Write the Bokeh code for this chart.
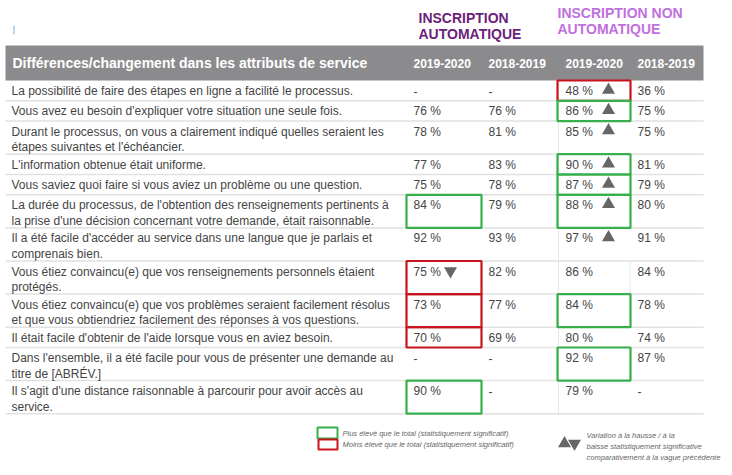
from bokeh.plotting import figure
from bokeh.models import ColumnDataSource, Range1d
from bokeh.core.properties import value
from bokeh.embed import file_html
from bokeh.resources import INLINE

# ---------------- data ----------------
group_titles = ["INSCRIPTION\nAUTOMATIQUE", "INSCRIPTION NON\nAUTOMATIQUE"]
header_title = "Différences/changement dans les attributs de service"
years = ["2019-2020", "2018-2019", "2019-2020", "2018-2019"]

attributes = [
    "La possibilité de faire des étapes en ligne a facilité le processus.",
    "Vous avez eu besoin d'expliquer votre situation une seule fois.",
    "Durant le processus, on vous a clairement indiqué quelles seraient les\nétapes suivantes et l'échéancier.",
    "L'information obtenue était uniforme.",
    "Vous saviez quoi faire si vous aviez un problème ou une question.",
    "La durée du processus, de l'obtention des renseignements pertinents à\nla prise d'une décision concernant votre demande, était raisonnable.",
    "Il a été facile d'accéder au service dans une langue que je parlais et\ncomprenais bien.",
    "Vous étiez convaincu(e) que vos renseignements personnels étaient\nprotégés.",
    "Vous étiez convaincu(e) que vos problèmes seraient facilement résolus\net que vous obtiendriez facilement des réponses à vos questions.",
    "Il était facile d'obtenir de l'aide lorsque vous en aviez besoin.",
    "Dans l'ensemble, il a été facile pour vous de présenter une demande au\ntitre de [ABRÉV.]",
    "Il s'agit d'une distance raisonnable à parcourir pour avoir accès au\nservice.",
]

auto_2020 = [None, 76, 78, 77, 75, 84, 92, 75, 73, 70, None, 90]
auto_2019 = [None, 76, 81, 83, 78, 79, 93, 82, 77, 69, None, None]
non_2020 = [48, 86, 85, 90, 87, 88, 97, 86, 84, 80, 92, 79]
non_2019 = [36, 75, 75, 81, 79, 80, 91, 84, 78, 74, 87, None]

# significance vs total ("higher" / "lower")
auto_2020_sig = ["", "", "", "", "", "higher", "", "lower", "lower", "lower", "", "higher"]
non_2020_sig = ["lower", "higher", "", "higher", "higher", "higher", "", "", "higher", "", "higher", ""]

# change vs previous wave ("up" / "down")
auto_2020_trend = ["", "", "", "", "", "", "", "down", "", "", "", ""]
non_2020_trend = ["up", "up", "up", "up", "up", "up", "up", "", "", "", "", ""]

legend_box_texts = ["Plus élevé que le total (statistiquement significatif)",
                    "Moins élevé que le total (statistiquement significatif)"]
legend_arrow_text = ["Variation à la hausse / à la",
                     "baisse statistiquement significative",
                     "comparativement à la vague précédente"]

# ---------------- styling / layout ----------------
FONT = value("Liberation Sans")
GREEN = "#35b04b"
RED = "#c8151d"
TXT = "#444444"
ARROW = "#666666"
HEADER_BG = "#8b8b8d"
DARK_PURPLE = "#6b1f7c"
LIGHT_PURPLE = "#c070de"

LEFT, RIGHT = 5, 703
HEAD_TOP, HEAD_BOT = 45, 80
SINGLE_H, DOUBLE_H = 20.3, 33.1
col_x = [413, 488, 565, 637]
box_x = [(406, 481), None, (557, 630), None]
arrow_x = [450, None, 608, None]

W, H = 730, 473
p = figure(width=W, height=H, output_backend="svg", toolbar_location=None,
           x_range=Range1d(0, W), y_range=Range1d(H, 0),
           x_axis_type=None, y_axis_type=None, min_border=0)
p.outline_line_color = None
p.background_fill_color = "white"
p.border_fill_color = "white"

# row geometry
tops, bots = [], []
y = HEAD_BOT
for a in attributes:
    h = DOUBLE_H if "\n" in a else SINGLE_H
    tops.append(y)
    bots.append(y + h)
    y += h
table_bottom = bots[-1]

# header band
p.quad(left=[LEFT], right=[RIGHT], top=[HEAD_TOP], bottom=[HEAD_BOT],
       fill_color=HEADER_BG, line_color=None)

# faint blue mark
p.segment(x0=[13.5], y0=[25], x1=[13.5], y1=[34], line_color="#7aaee0", line_width=1)

# row separators
p.segment(x0=[LEFT] * len(bots), y0=bots, x1=[RIGHT] * len(bots), y1=bots,
          line_color="#e1e1e1", line_width=1.5)
# vertical separators
p.segment(x0=[558], y0=[HEAD_BOT], x1=[558], y1=[table_bottom], line_color="#e6e6e6", line_width=1)
p.segment(x0=[629.5], y0=[tops[7]], x1=[629.5], y1=[bots[7]], line_color="#e6e6e6", line_width=1)

# group titles
gt = {"x": [], "y": [], "t": [], "c": []}
for title, gx, gy, col in zip(group_titles, [418, 557], [17, 12], [DARK_PURPLE, LIGHT_PURPLE]):
    for li, line in enumerate(title.split("\n")):
        gt["x"].append(gx); gt["y"].append(gy + 16 * li); gt["t"].append(line); gt["c"].append(col)
p.text(x="x", y="y", text="t", text_color="c", source=ColumnDataSource(gt),
       text_font=FONT, text_font_size="14px", text_font_style="bold",
       text_baseline="middle", text_align="left")

# header texts
p.text(x=[12], y=[62.5], text=[header_title], text_color="white", text_font=FONT,
       text_font_size="14px", text_font_style="bold", text_baseline="middle")
p.text(x=col_x, y=[62.5] * 4, text=years, text_color="white", text_font=FONT,
       text_font_size="12px", text_font_style="bold", text_baseline="middle")

# attribute labels
lab = {"x": [], "y": [], "t": []}
for a, t in zip(attributes, tops):
    for li, line in enumerate(a.split("\n")):
        lab["x"].append(11); lab["y"].append(t + 10.5 + 15.5 * li); lab["t"].append(line)
p.text(x="x", y="y", text="t", source=ColumnDataSource(lab), text_color=TXT,
       text_font=FONT, text_font_size="12px", text_baseline="middle")

# values
vals = {"x": [], "y": [], "t": []}
for ci, col in enumerate([auto_2020, auto_2019, non_2020, non_2019]):
    for v, t in zip(col, tops):
        vals["x"].append(col_x[ci]); vals["y"].append(t + 10.5)
        vals["t"].append("-" if v is None else f"{v} %")
p.text(x="x", y="y", text="t", source=ColumnDataSource(vals), text_color=TXT,
       text_font=FONT, text_font_size="12px", text_baseline="middle")

# significance boxes
bx = {"l": [], "r": [], "t": [], "b": [], "c": []}
for ci, sig in [(0, auto_2020_sig), (2, non_2020_sig)]:
    for s, t, b in zip(sig, tops, bots):
        if s:
            bx["l"].append(box_x[ci][0]); bx["r"].append(box_x[ci][1])
            bx["t"].append(t); bx["b"].append(b)
            bx["c"].append(GREEN if s == "higher" else RED)
p.quad(left="l", right="r", top="t", bottom="b", line_color="c", fill_color=None,
       line_width=2.2, source=ColumnDataSource(bx))

# trend arrows
for ci, trend in [(0, auto_2020_trend), (2, non_2020_trend)]:
    ups = [t + 9.5 for tr, t in zip(trend, tops) if tr == "up"]
    downs = [t + 10 for tr, t in zip(trend, tops) if tr == "down"]
    if ups:
        p.scatter(x=[arrow_x[ci]] * len(ups), y=ups, marker="triangle", size=13,
                  fill_color=ARROW, line_color=None)
    if downs:
        p.scatter(x=[arrow_x[ci]] * len(downs), y=downs, marker="inverted_triangle", size=13,
                  fill_color=ARROW, line_color=None)

# legend
p.quad(left=[317, 318], right=[337, 337], top=[427, 439], bottom=[438, 449],
       fill_color=None, line_color=[GREEN, RED], line_width=2)
p.text(x=[342, 342], y=[433, 443.5], text=legend_box_texts, text_color="#666666",
       text_font=FONT, text_font_size="7.5px", text_font_style="italic", text_baseline="middle")
p.scatter(x=[564], y=[443], marker="triangle", size=13, fill_color=ARROW, line_color=None)
p.scatter(x=[574], y=[443], marker="inverted_triangle", size=13, fill_color=ARROW, line_color=None)
p.text(x=[586] * 3, y=[435, 446, 457], text=legend_arrow_text, text_color="#666666",
       text_font=FONT, text_font_size="7.5px", text_font_style="italic", text_baseline="middle")

open("out.html", "w").write(file_html(p, INLINE))
